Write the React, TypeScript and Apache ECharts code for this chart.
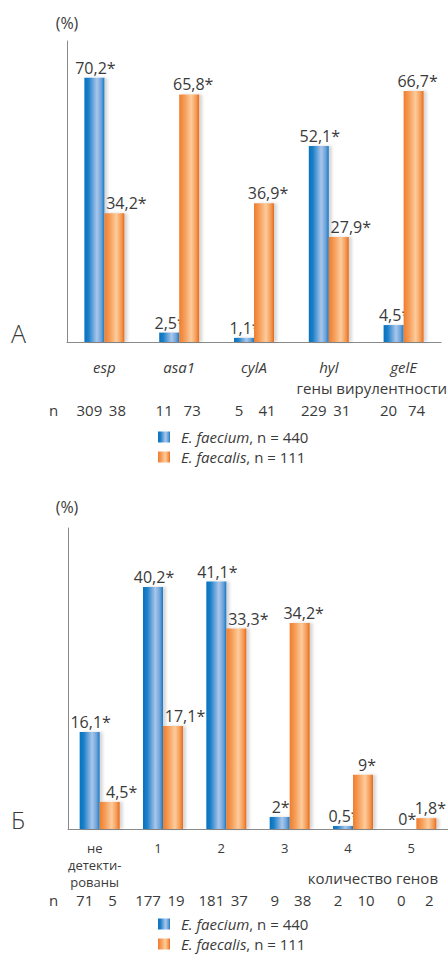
import React, { useEffect, useRef } from "react";
import * as echarts from "echarts";

const seriesNames = ["E. faecium", "E. faecalis"];
const totals = [440, 111];

const categoriesA = ["esp", "asa1", "cylA", "hyl", "gelE"];
const faeciumA = [70.2, 2.5, 1.1, 52.1, 4.5];
const faecalisA = [34.2, 65.8, 36.9, 27.9, 66.7];
const nFaeciumA = [309, 11, 5, 229, 20];
const nFaecalisA = [38, 73, 41, 31, 74];

const categoriesB = ["не\nдетекти-\nрованы", "1", "2", "3", "4", "5"];
const faeciumB = [16.1, 40.2, 41.1, 2, 0.5, 0];
const faecalisB = [4.5, 17.1, 33.3, 34.2, 9, 1.8];
const nFaeciumB = [71, 177, 181, 9, 2, 0];
const nFaecalisB = [5, 19, 37, 38, 10, 2];

const FONT = "'Open Sans', 'DejaVu Sans', sans-serif";
const TXT = "#3a3a3a";
const AXIS = "#8a8a8a";

const blueGrad = new echarts.graphic.LinearGradient(0, 0, 1, 0, [
  { offset: 0, color: "#0772be" },
  { offset: 0.2, color: "#1a7ec8" },
  { offset: 0.62, color: "#aac6ea" },
  { offset: 0.85, color: "#6aa2da" },
  { offset: 1, color: "#1877c2" },
]);
const orangeGrad = new echarts.graphic.LinearGradient(0, 0, 1, 0, [
  { offset: 0, color: "#ef7d2c" },
  { offset: 0.25, color: "#f59a55" },
  { offset: 0.6, color: "#fdcc9c" },
  { offset: 0.85, color: "#f49a55" },
  { offset: 1, color: "#e66a1c" },
]);

const fmt = (v: number) => String(v).replace(".", ",") + "*";

function barSeries(
  name: string,
  values: number[],
  other: number[],
  isOrange: boolean,
  axisIdx: number,
  yIdx: number
) {
  return {
    type: "bar",
    name,
    xAxisIndex: axisIdx,
    yAxisIndex: yIdx,
    barWidth: 20,
    barGap: "0%",
    z: isOrange ? 3 : 2,
    itemStyle: {
      color: isOrange ? orangeGrad : blueGrad,
      shadowColor: "rgba(0,0,0,0.16)",
      shadowBlur: 3,
      shadowOffsetX: 3,
      shadowOffsetY: 0,
    },
    label: {
      show: true,
      position: "top",
      distance: 2,
      fontFamily: FONT,
      fontSize: 16,
      color: TXT,
      formatter: (p: any) => fmt(p.value),
    },
    data: values.map((v, i) => ({
      value: v,
      label: { offset: [isOrange ? (other[i] > v ? 12 : 4) : 1, 0] },
    })),
  };
}

function nAxis(gridIndex: number, cats: string[], a: number[], b: number[], offset: number) {
  return {
    type: "category",
    gridIndex,
    data: cats,
    position: "bottom",
    offset,
    axisLine: { show: false },
    axisTick: { show: false },
    axisLabel: {
      interval: 0,
      margin: 0,
      fontFamily: FONT,
      fontSize: 15,
      lineHeight: 16,
      color: TXT,
      formatter: (_v: string, i: number) => `{a|${a[i]}}{b|${b[i]}}`,
      rich: {
        a: { width: 26, align: "center", fontFamily: FONT, fontSize: 15, color: TXT },
        b: { width: 30, align: "center", fontFamily: FONT, fontSize: 15, color: TXT },
      },
    },
  };
}

function legendAt(top: number) {
  return {
    left: 158,
    top,
    padding: 0,
    orient: "vertical",
    icon: "rect",
    itemWidth: 12,
    itemHeight: 11,
    itemGap: 4,
    selectedMode: false,
    data: seriesNames,
    formatter: (name: string) =>
      `{i|${name}}{r|, n = ${totals[seriesNames.indexOf(name)]}}`,
    textStyle: {
      fontFamily: FONT,
      fontSize: 15,
      lineHeight: 16,
      color: TXT,
      padding: [0, 0, 0, 6],
      rich: {
        i: { fontStyle: "italic", fontFamily: FONT, fontSize: 15, lineHeight: 16, color: TXT },
        r: { fontFamily: FONT, fontSize: 15, lineHeight: 16, color: TXT },
      },
    },
  };
}

function txt(text: string, x: number, y: number, size: number, align = "left", extra: any = {}) {
  return {
    type: "text",
    x,
    y,
    style: {
      text,
      fontFamily: FONT,
      fontSize: size,
      fill: TXT,
      align,
      verticalAlign: "middle",
      ...extra,
    },
  };
}

export default function App() {
  const ref = useRef<HTMLDivElement>(null);
  useEffect(() => {
    document.body.style.margin = "0";
    if (!ref.current) return;
    const chart = echarts.init(ref.current, undefined, { renderer: "svg" });
    const valAxis = (gridIndex: number, max: number) => ({
      type: "value",
      gridIndex,
      min: 0,
      max,
      axisLine: { show: true, lineStyle: { color: AXIS, width: 1 } },
      axisTick: { show: false },
      axisLabel: { show: false },
      splitLine: { show: false },
    });
    chart.setOption({
      animation: false,
      grid: [
        { left: 67, top: 41, width: 374, height: 301 },
        { left: 68, top: 528, width: 381, height: 301 },
      ],
      xAxis: [
        {
          type: "category",
          gridIndex: 0,
          data: categoriesA,
          axisLine: { lineStyle: { color: AXIS, width: 1 } },
          axisTick: { show: false },
          axisLabel: {
            interval: 0,
            margin: 17,
            fontFamily: FONT,
            fontSize: 15,
            lineHeight: 16,
            fontStyle: "italic",
            color: TXT,
          },
        },
        nAxis(0, categoriesA, nFaeciumA, nFaecalisA, 60),
        {
          type: "category",
          gridIndex: 1,
          data: categoriesB,
          axisLine: { lineStyle: { color: AXIS, width: 1 } },
          axisTick: { show: false },
          axisLabel: {
            interval: 0,
            margin: 10,
            fontFamily: FONT,
            fontSize: 13,
            lineHeight: 17,
            color: TXT,
            padding: [0, 10, 0, 0],
          },
        },
        nAxis(1, categoriesB, nFaeciumB, nFaecalisB, 63),
      ],
      yAxis: [valAxis(0, 80), valAxis(1, 50)],
      legend: [legendAt(429), legendAt(916)],
      graphic: [
        txt("(%)", 67, 23, 16, "center"),
        txt("(%)", 67, 507, 16, "center"),
        txt("А", 11, 333, 25, "left", { fontWeight: 300 }),
        txt("Б", 11, 819, 24, "left", { fontWeight: 300 }),
        txt("гены вирулентности", 447, 388, 15, "right"),
        txt("количество генов", 438, 878, 15, "right"),
        txt("n", 49, 410, 15, "left"),
        txt("n", 49, 900, 15, "left"),
      ],
      series: [
        barSeries(seriesNames[0], faeciumA, faecalisA, false, 0, 0),
        barSeries(seriesNames[1], faecalisA, faeciumA, true, 0, 0),
        barSeries(seriesNames[0], faeciumB, faecalisB, false, 2, 1),
        barSeries(seriesNames[1], faecalisB, faeciumB, true, 2, 1),
      ],
    });
    return () => chart.dispose();
  }, []);
  return <div ref={ref} style={{ width: 448, height: 954 }} />;
}
